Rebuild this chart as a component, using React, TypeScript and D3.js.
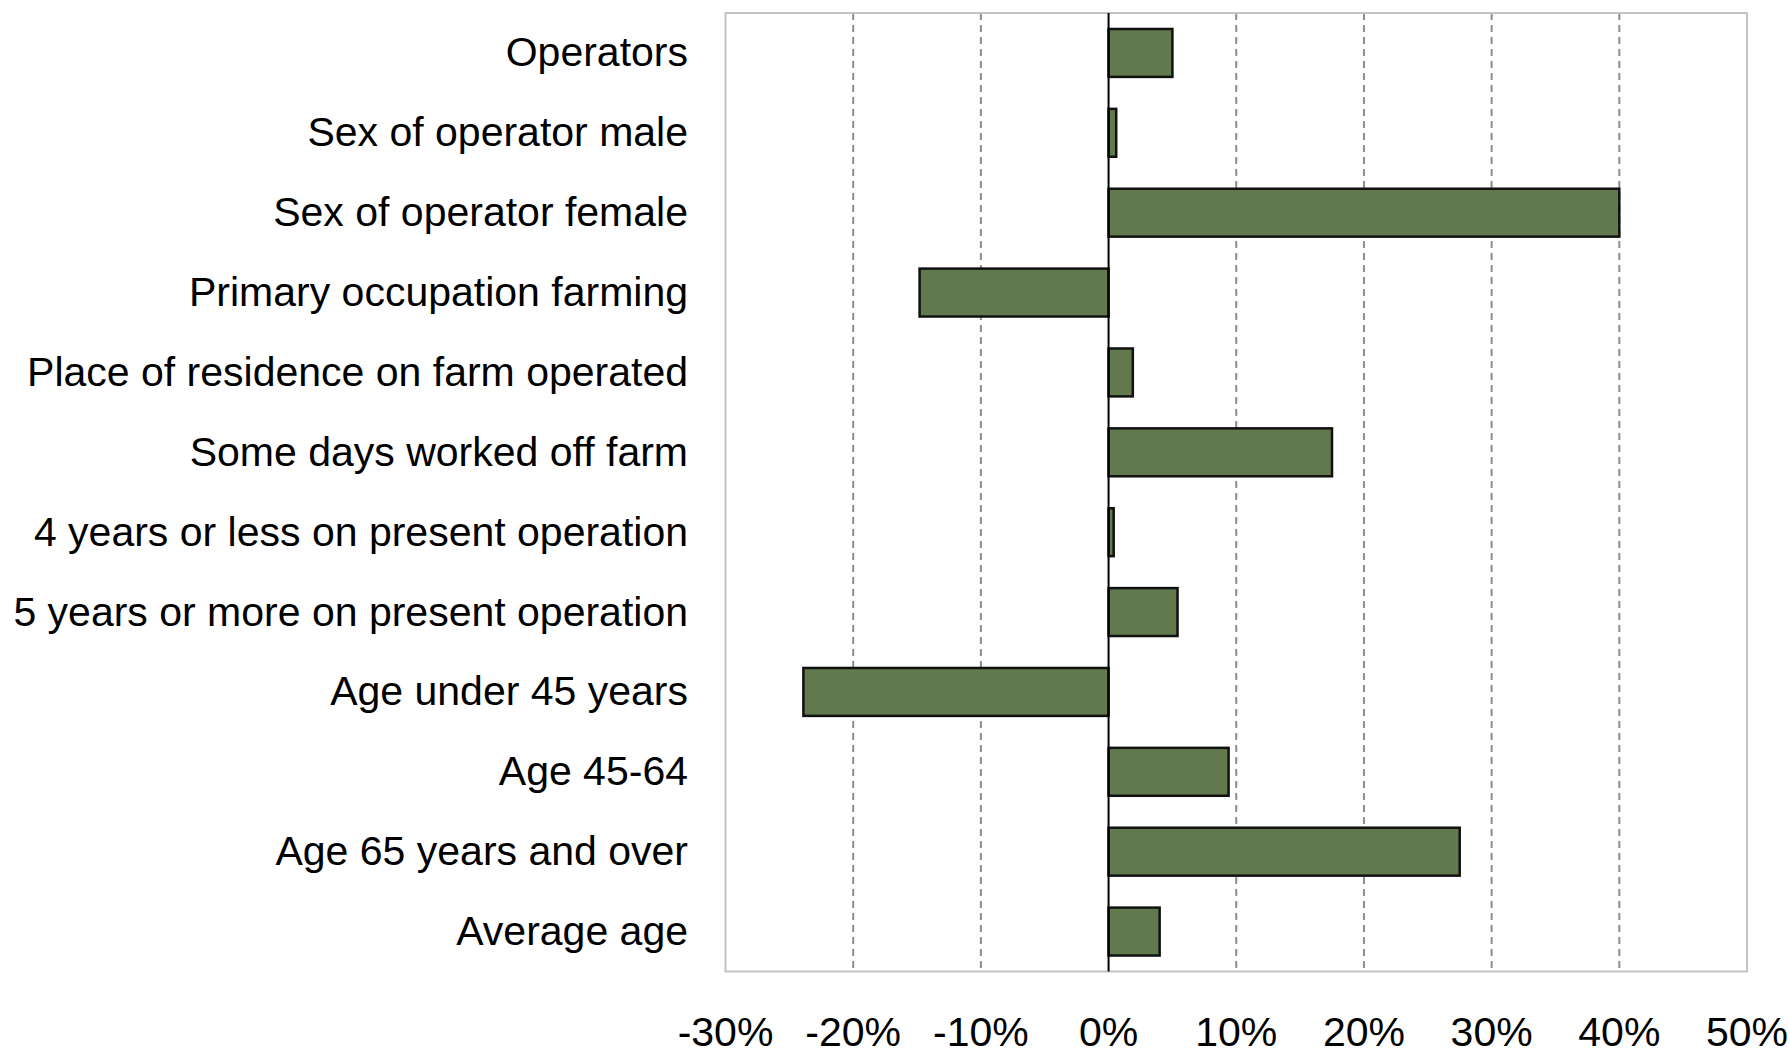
import { scaleLinear, scaleBand } from "d3";

// categories, top to bottom
const categories = [
  "Operators",
  "Sex of operator male",
  "Sex of operator female",
  "Primary occupation farming",
  "Place of residence on farm operated",
  "Some days worked off farm",
  "4 years or less on present operation",
  "5 years or more on present operation",
  "Age under 45 years",
  "Age 45-64",
  "Age 65 years and over",
  "Average age",
];

// percent change
const changes = [5.0, 0.6, 40.0, -14.8, 1.9, 17.5, 0.4, 5.4, -23.9, 9.4, 27.5, 4.0];

const ticks = [-30, -20, -10, 0, 10, 20, 30, 40, 50];

const W = 1790;
const H = 1055;
const plot = { left: 725.5, right: 1747, top: 13, bottom: 971.5 };
const font = "'Liberation Sans', Arial, sans-serif";

export default function App() {
  const x = scaleLinear().domain([-30, 50]).range([plot.left, plot.right]);
  const y = scaleBand<string>()
    .domain(categories)
    .range([plot.top, plot.bottom])
    .paddingInner(0.4)
    .paddingOuter(0.2);

  return (
    <svg
      width={W}
      height={H}
      style={{ position: "absolute", left: 0, top: 0, background: "white" }}
    >
      {/* dashed gridlines, behind the bars */}
      {ticks
        .filter((t) => t !== 0 && t !== -30 && t !== 50)
        .map((t) => (
          <line
            key={"g" + t}
            x1={x(t)}
            x2={x(t)}
            y1={plot.top}
            y2={plot.bottom}
            stroke="#8c8c8c"
            strokeWidth={2}
            strokeDasharray="7,5"
          />
        ))}

      {/* plot border */}
      <rect
        x={plot.left}
        y={plot.top}
        width={plot.right - plot.left}
        height={plot.bottom - plot.top}
        fill="none"
        stroke="#c4c4c4"
        strokeWidth={2}
      />

      {/* bars */}
      {categories.map((c, i) => {
        const v = changes[i];
        const x0 = x(Math.min(0, v));
        const x1 = x(Math.max(0, v));
        return (
          <rect
            key={c}
            x={x0}
            y={y(c)}
            width={x1 - x0}
            height={y.bandwidth()}
            fill="#62784d"
            stroke="#111"
            strokeWidth={2.5}
          />
        );
      })}

      {/* zero line */}
      <line
        x1={x(0)}
        x2={x(0)}
        y1={plot.top}
        y2={plot.bottom}
        stroke="#000"
        strokeWidth={2}
      />

      {/* category labels */}
      {categories.map((c) => (
        <text
          key={"l" + c}
          x={688}
          y={(y(c) ?? 0) + y.bandwidth() / 2}
          dy="0.33em"
          textAnchor="end"
          fontFamily={font}
          fontSize={41}
          fill="#000"
        >
          {c}
        </text>
      ))}

      {/* x tick labels */}
      {ticks.map((t) => (
        <text
          key={"t" + t}
          x={x(t)}
          y={1046}
          textAnchor="middle"
          fontFamily={font}
          fontSize={41}
          fill="#000"
        >
          {t + "%"}
        </text>
      ))}
    </svg>
  );
}
